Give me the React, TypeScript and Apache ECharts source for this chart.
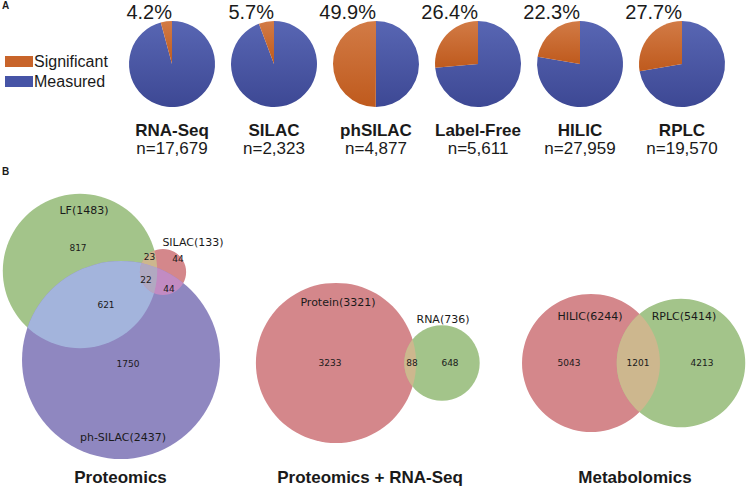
import React, { useEffect, useRef } from "react";
import * as echarts from "echarts";

// ---------- data ----------
const DATASETS = ["RNA-Seq", "SILAC", "phSILAC", "Label-Free", "HILIC", "RPLC"];
const SIGNIFICANT_PCT = [4.2, 5.7, 49.9, 26.4, 22.3, 27.7];
const MEASURED_N = [17679, 2323, 4877, 5611, 27959, 19570];
const LEGEND_NAMES = ["Significant", "Measured"];

const PROT_SET_NAMES = ["LF", "SILAC", "ph-SILAC"];
const PROT_SET_SIZES = [1483, 133, 2437];
// LF only, SILAC only, ph only, LF&SILAC, LF&ph, SILAC&ph, all three
const PROT_REGION_COUNTS = [817, 44, 1750, 23, 621, 44, 22];

const PR_SET_NAMES = ["Protein", "RNA"];
const PR_SET_SIZES = [3321, 736];
// Protein only, RNA only, both
const PR_REGION_COUNTS = [3233, 648, 88];

const MET_SET_NAMES = ["HILIC", "RPLC"];
const MET_SET_SIZES = [6244, 5414];
// HILIC only, RPLC only, both
const MET_REGION_COUNTS = [5043, 4213, 1201];

const VENN_TITLES = ["Proteomics", "Proteomics + RNA-Seq", "Metabolomics"];

// ---------- layout & style ----------
const W = 750;
const H = 486;
const PIE_CX = [172, 274, 376, 478, 580, 682];
const PIE_CY = 64;
const PIE_R = 43;
const FONT = "'Liberation Sans', Arial, Helvetica, sans-serif";
const VFONT = "'DejaVu Sans', sans-serif";
const TXT = "#1a1a1a";

const ORANGE = "#c8642a";
const BLUE = "#4654a6";
const GREEN = "#a3c48a";
const RED = "#d4878b";
const PURPLE = "#8f87c0";
const TAN = "#cdb78e";
const LIGHTBLUE = "#a3b4dc";
const ORCHID = "#c28bc2";
const GREY = "#b1a9c1";

const VENN_LAYOUT = [
  {
    k: 2.005,
    centers: [[80, 271], [163, 272], [121, 360]],
    setColors: [GREEN, RED, PURPLE],
    pairColors: [TAN, LIGHTBLUE, ORCHID],
    tripleColor: GREY,
    setLabels: [[84, 210], [193, 242], [123, 437]],
    regionLabels: [[78, 248], [178, 259], [128, 364], [149.5, 257], [106, 305], [169, 289], [146, 280]],
    titleX: 120.5,
  },
  {
    k: 1.39,
    centers: [[336, 363], [442, 363]],
    setColors: [RED, GREEN],
    pairColors: [TAN],
    setLabels: [[338, 302], [443, 319]],
    regionLabels: [[330, 363], [450, 363], [412, 363]],
    titleX: 370,
  },
  {
    k: 0.873,
    centers: [[591, 363], [681, 363]],
    setColors: [RED, GREEN],
    pairColors: [TAN],
    setLabels: [[590, 316], [684, 316]],
    regionLabels: [[569, 363], [702, 363], [638, 363]],
    titleX: 635,
  },
];
const TITLE_Y = 477;

const VENN_DATA = [
  { names: PROT_SET_NAMES, sizes: PROT_SET_SIZES, regions: PROT_REGION_COUNTS },
  { names: PR_SET_NAMES, sizes: PR_SET_SIZES, regions: PR_REGION_COUNTS },
  { names: MET_SET_NAMES, sizes: MET_SET_SIZES, regions: MET_REGION_COUNTS },
];

type Circ = [number, number, number];
type Shape = { circles: Circ[]; color: string };
type Label = { x: number; y: number; text: string; size: number };

function buildVenn() {
  const shapes: Shape[] = [];
  const labels: Label[] = [];
  VENN_DATA.forEach((d, di) => {
    const L: any = VENN_LAYOUT[di];
    const circ: Circ[] = d.sizes.map((s, i) => [L.centers[i][0], L.centers[i][1], L.k * Math.sqrt(s)]);
    circ.forEach((c, i) => shapes.push({ circles: [c], color: L.setColors[i] }));
    const pairs: number[][] = [];
    for (let i = 0; i < circ.length; i++) for (let j = i + 1; j < circ.length; j++) pairs.push([i, j]);
    pairs.forEach((p, pi) => shapes.push({ circles: [circ[p[0]], circ[p[1]]], color: L.pairColors[pi] }));
    if (circ.length === 3) shapes.push({ circles: [circ[0], circ[1], circ[2]], color: L.tripleColor });
    d.names.forEach((n, i) =>
      labels.push({ x: L.setLabels[i][0], y: L.setLabels[i][1], text: `${n}(${d.sizes[i]})`, size: 11 })
    );
    d.regions.forEach((r, i) =>
      labels.push({ x: L.regionLabels[i][0], y: L.regionLabels[i][1], text: String(r), size: 9 })
    );
  });
  return { shapes, labels };
}

const grad = (a: string, b: string) => ({
  type: "linear",
  x: 0,
  y: 0,
  x2: 0,
  y2: 1,
  colorStops: [
    { offset: 0, color: a },
    { offset: 1, color: b },
  ],
});

export default function App() {
  const ref = useRef<HTMLDivElement>(null);
  useEffect(() => {
    document.body.style.margin = "0";
    if (!ref.current) return;
    const chart = echarts.init(ref.current, null, { renderer: "svg" });
    const { shapes, labels } = buildVenn();

    const pieSeries = DATASETS.map((name, i) => ({
      type: "pie",
      name,
      center: [PIE_CX[i], PIE_CY],
      radius: [0, PIE_R],
      startAngle: 90,
      clockwise: true,
      silent: true,
      label: { show: false },
      labelLine: { show: false },
      emphasis: { disabled: true },
      itemStyle: { borderWidth: 0 },
      data: [
        {
          name: "Measured",
          value: +(100 - SIGNIFICANT_PCT[i]).toFixed(1),
          itemStyle: { color: grad("#5866b3", "#3d4894") },
        },
        {
          name: "Significant",
          value: SIGNIFICANT_PCT[i],
          itemStyle: { color: grad("#d27b46", "#bf5a1d") },
        },
      ],
    }));

    const toC = (api: any, c: Circ) => {
      const p = api.coord([c[0], c[1]]);
      const r = api.size([c[2], 0])[0];
      return { cx: p[0], cy: p[1], r };
    };

    const vennSeries = {
      type: "custom",
      coordinateSystem: "cartesian2d",
      silent: true,
      clip: false,
      encode: { x: 0, y: 1 },
      data: shapes.map((_, i) => [i, 0]),
      renderItem: (params: any, api: any) => {
        const s = shapes[api.value(0)];
        const cs = s.circles.map((c) => toC(api, c));
        if (cs.length === 1) {
          return { type: "circle", shape: cs[0], style: { fill: s.color } };
        }
        if (cs.length === 2) {
          return {
            type: "circle",
            shape: cs[0],
            style: { fill: s.color },
            clipPath: { type: "circle", shape: cs[1] },
          };
        }
        return {
          type: "group",
          clipPath: { type: "circle", shape: cs[2] },
          children: [
            {
              type: "circle",
              shape: cs[0],
              style: { fill: s.color },
              clipPath: { type: "circle", shape: cs[1] },
            },
          ],
        };
      },
      z: 2,
    };

    const labelSeries = {
      type: "custom",
      coordinateSystem: "cartesian2d",
      silent: true,
      clip: false,
      encode: { x: 0, y: 1 },
      data: labels.map((l) => [l.x, l.y]),
      renderItem: (params: any, api: any) => {
        const l = labels[params.dataIndex];
        const p = api.coord([api.value(0), api.value(1)]);
        return {
          type: "text",
          style: {
            text: l.text,
            x: p[0],
            y: p[1],
            align: "center",
            verticalAlign: "middle",
            fontSize: l.size,
            fontFamily: VFONT,
            fill: TXT,
          },
        };
      },
      z: 3,
    };

    const graphics: any[] = [];
    DATASETS.forEach((name, i) => {
      graphics.push({
        type: "text",
        x: PIE_CX[i],
        y: 11.5,
        style: {
          text: SIGNIFICANT_PCT[i].toFixed(1) + "%",
          align: "right",
          verticalAlign: "middle",
          fontSize: 20,
          fontFamily: FONT,
          fill: TXT,
        },
      });
      graphics.push({
        type: "text",
        x: PIE_CX[i],
        y: 130.5,
        style: {
          text: name,
          align: "center",
          verticalAlign: "middle",
          fontSize: 17,
          fontWeight: "bold",
          fontFamily: FONT,
          fill: TXT,
        },
      });
      graphics.push({
        type: "text",
        x: PIE_CX[i],
        y: 148.5,
        style: {
          text: "n=" + MEASURED_N[i].toLocaleString("en-US"),
          align: "center",
          verticalAlign: "middle",
          fontSize: 17,
          fontFamily: FONT,
          fill: TXT,
        },
      });
    });
    VENN_TITLES.forEach((t, i) => {
      graphics.push({
        type: "text",
        x: VENN_LAYOUT[i].titleX,
        y: TITLE_Y,
        style: {
          text: t,
          align: "center",
          verticalAlign: "middle",
          fontSize: 17,
          fontWeight: "bold",
          fontFamily: FONT,
          fill: TXT,
        },
      });
    });
    [["A", 5.5], ["B", 171.5]].forEach(([t, y]) => {
      graphics.push({
        type: "text",
        x: 2,
        y: y as number,
        style: {
          text: t as string,
          align: "left",
          verticalAlign: "middle",
          fontSize: 10,
          fontWeight: "bold",
          fontFamily: FONT,
          fill: TXT,
        },
      });
    });

    chart.setOption({
      animation: false,
      backgroundColor: "#ffffff",
      grid: { left: 0, right: 0, top: 0, bottom: 0 },
      xAxis: { type: "value", min: 0, max: W, show: false },
      yAxis: { type: "value", min: 0, max: H, inverse: true, show: false },
      legend: {
        orient: "vertical",
        left: 5,
        top: 51.5,
        padding: 0,
        itemGap: 0,
        itemWidth: 28,
        itemHeight: 11,
        icon: "rect",
        selectedMode: false,
        data: [
          { name: LEGEND_NAMES[0], itemStyle: { color: ORANGE } },
          { name: LEGEND_NAMES[1], itemStyle: { color: BLUE } },
        ],
        textStyle: {
          fontSize: 16,
          lineHeight: 20,
          fontFamily: FONT,
          color: TXT,
          padding: [0, 0, 0, -4],
        },
      },
      graphic: graphics,
      series: [...pieSeries, vennSeries, labelSeries],
    });
    return () => chart.dispose();
  }, []);
  return <div ref={ref} style={{ width: W, height: H }} />;
}
